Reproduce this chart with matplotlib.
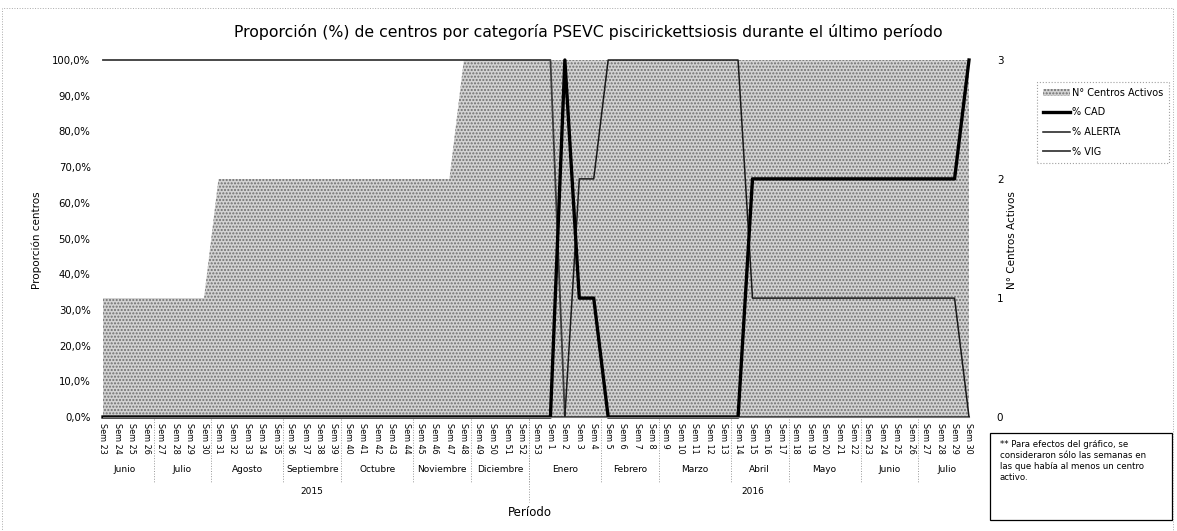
import matplotlib
matplotlib.use('Agg')
import matplotlib.pyplot as plt
import matplotlib.transforms as mtransforms
from matplotlib.patches import Patch, Rectangle
from matplotlib.lines import Line2D
from matplotlib.ticker import FuncFormatter

# semanas 23-53 de 2015 y 1-30 de 2016
semanas = [f'Sem {n}' for n in list(range(23, 54)) + list(range(1, 31))]
meses = ['Junio', 'Julio', 'Agosto', 'Septiembre', 'Octubre', 'Noviembre', 'Diciembre',
         'Enero', 'Febrero', 'Marzo', 'Abril', 'Mayo', 'Junio', 'Julio']
semanas_por_mes = [4, 4, 5, 4, 5, 4, 4, 5, 4, 5, 4, 5, 4, 4]
anios = ['2015', '2016']
semanas_por_anio = [30, 31]

centros = [1, 1, 1, 1, 1, 1, 1, 1,
           2, 2, 2, 2, 2, 2, 2, 2, 2, 2, 2, 2, 2, 2, 2, 2, 2,
           3, 3, 3, 3, 3, 3, 3, 3, 3, 3, 3, 3, 3, 3, 3, 3, 3, 3,
           3, 3, 3, 3, 3, 3, 3, 3, 3, 3, 3, 3, 3, 3, 3, 3, 3, 3]
cad = [0, 0, 0, 0, 0, 0, 0, 0, 0, 0, 0, 0, 0, 0, 0, 0,
       0, 0, 0, 0, 0, 0, 0, 0, 0, 0, 0, 0, 0, 0, 0, 0,
       1.0, 0.333, 0.333, 0, 0, 0, 0, 0, 0, 0, 0, 0, 0,
       0.667, 0.667, 0.667, 0.667, 0.667, 0.667, 0.667, 0.667,
       0.667, 0.667, 0.667, 0.667, 0.667, 0.667, 0.667, 1.0]
alerta = [0, 0, 0, 0, 0, 0, 0, 0, 0, 0, 0, 0, 0, 0, 0, 0,
          0, 0, 0, 0, 0, 0, 0, 0, 0, 0, 0, 0, 0, 0, 0, 0,
          0, 0.667, 0.667, 1.0, 1.0, 1.0, 1.0, 1.0, 1.0, 1.0, 1.0, 1.0, 1.0,
          0.333, 0.333, 0.333, 0.333, 0.333, 0.333, 0.333, 0.333,
          0.333, 0.333, 0.333, 0.333, 0.333, 0.333, 0.333, 0]
vig = [1.0, 1.0, 1.0, 1.0, 1.0, 1.0, 1.0, 1.0, 1.0, 1.0, 1.0, 1.0, 1.0, 1.0, 1.0, 1.0,
       1.0, 1.0, 1.0, 1.0, 1.0, 1.0, 1.0, 1.0, 1.0, 1.0, 1.0, 1.0, 1.0, 1.0, 1.0, 1.0,
       0, 0, 0, 0, 0, 0, 0, 0, 0, 0, 0, 0, 0,
       0, 0, 0, 0, 0, 0, 0, 0, 0, 0, 0, 0, 0, 0, 0, 0]

W, H = 1177, 531


def fx(px):
    return px / W


def fy(py):
    return 1 - py / H


fig = plt.figure(figsize=(W / 100, H / 100), dpi=100)
ax = fig.add_axes([fx(103), fy(417), (969 - 103) / W, (417 - 60) / H])
ax2 = ax.twinx()
x = list(range(len(semanas)))

area_kw = dict(facecolor='#d2d2d2', hatch='.....', edgecolor='#6e6e6e', linewidth=0)
ax2.fill_between(x, centros, **area_kw)
ax2.set_ylim(0, 3)
ax2.set_yticks([0, 1, 2, 3])
ax2.tick_params(axis='y', length=0, labelsize=7.5, pad=20)

ax.set_zorder(ax2.get_zorder() + 1)
ax.patch.set_visible(False)
ax.plot(x, vig, color='#3a3a3a', lw=1.3, clip_on=False)
ax.plot(x, alerta, color='#1a1a1a', lw=1.1, clip_on=False)
ax.plot(x, cad, color='black', lw=2.4, clip_on=False)
ax.set_xlim(0, len(semanas) - 1)
ax.set_ylim(0, 1)
ax.set_yticks([i / 10 for i in range(11)])
ax.yaxis.set_major_formatter(FuncFormatter(lambda v, _: f'{v * 100:.1f}%'.replace('.', ',')))
ax.tick_params(axis='y', length=0, labelsize=7.3, pad=9)
ax.set_xticks(x)
ax.set_xticklabels(semanas, rotation=270, fontsize=5.8)
ax.tick_params(axis='x', length=0, pad=4)

for a in (ax, ax2):
    for s in a.spines.values():
        s.set_visible(False)
ax.spines['bottom'].set_visible(True)
ax.spines['bottom'].set_color('#777777')

# etiquetas de mes y año bajo el eje
trans = mtransforms.blended_transform_factory(ax.transData, fig.transFigure)
start = 0
for mes, n in zip(meses, semanas_por_mes):
    ax.text(start + (n - 1) / 2, fy(470), mes, transform=trans, ha='center', va='center', fontsize=6.5)
    if start > 0:
        fig.add_artist(Line2D([start - 0.5, start - 0.5], [fy(419), fy(482)], transform=trans,
                              ls=':', color='#999999', lw=0.7))
    start += n
start = 0
for anio, n in zip(anios, semanas_por_anio):
    ax.text(start + (n - 1) / 2, fy(491), anio, transform=trans, ha='center', va='center', fontsize=6.5)
    if start > 0:
        fig.add_artist(Line2D([start - 0.5, start - 0.5], [fy(419), fy(502)], transform=trans,
                              ls=':', color='#999999', lw=0.7))
    start += n

fig.text(fx(588), fy(32), 'Proporción (%) de centros por categoría PSEVC piscirickettsiosis durante el último período',
         ha='center', va='center', fontsize=11.3)
fig.text(fx(37), fy(240), 'Proporción centros', rotation=90, ha='center', va='center', fontsize=7.5)
fig.text(fx(1012), fy(240), 'N° Centros Activos', rotation=90, ha='center', va='center', fontsize=7.5)
fig.text(fx(530), fy(512), 'Período', ha='center', va='center', fontsize=8.5)

handles = [Patch(**area_kw),
           Line2D([], [], color='black', lw=2.4),
           Line2D([], [], color='#1a1a1a', lw=1.1),
           Line2D([], [], color='#3a3a3a', lw=1.3)]
labels = ['N° Centros Activos', '% CAD', '% ALERTA', '% VIG']
leg = fig.legend(handles, labels, loc='upper left', bbox_to_anchor=(fx(1032), fy(77)), fontsize=7,
                 fancybox=False, handlelength=2.8, labelspacing=1.0, borderpad=0.6, handletextpad=0.2)
leg.get_frame().set_edgecolor('#888888')
leg.get_frame().set_linestyle(':')
leg.get_frame().set_linewidth(0.8)

# nota
fig.add_artist(Rectangle((fx(990), fy(520)), 182 / W, 87 / H, transform=fig.transFigure,
                         fill=False, ec='black', lw=0.9))
nota = ('** Para efectos del gráfico, se\nconsideraron sólo las semanas en\n'
        'las que había al menos un centro\nactivo.')
fig.text(fx(1000), fy(440), nota, ha='left', va='top', fontsize=6.2, linespacing=1.3)

# marco exterior punteado
fig.add_artist(Rectangle((0.002, 0.0), 0.995, fy(8), transform=fig.transFigure,
                         fill=False, ec='#aaaaaa', lw=0.7, ls=':'))

fig.savefig('out.png', dpi=100)
